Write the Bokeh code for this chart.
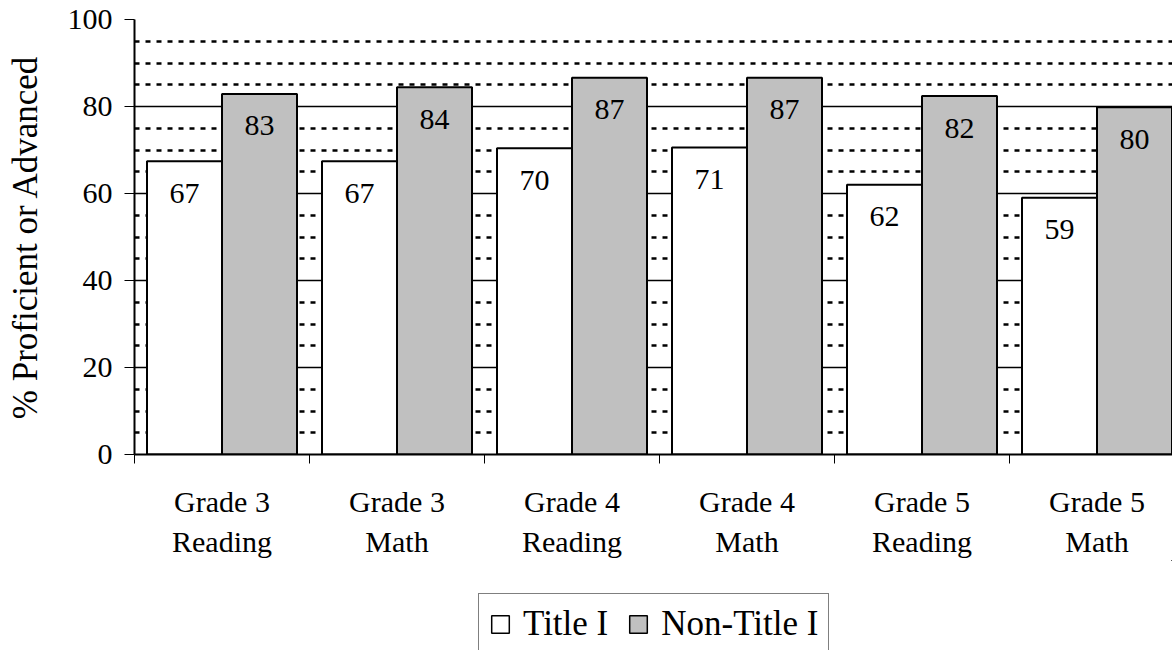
from bokeh.plotting import figure
from bokeh.layouts import column
from bokeh.models import (Range1d, LinearAxis, FixedTicker, Legend, LegendItem,
                          ColumnDataSource)
from bokeh.core.properties import value
from bokeh.embed import file_html
from bokeh.resources import INLINE

grades = ["Grade 3", "Grade 3", "Grade 4", "Grade 4", "Grade 5", "Grade 5"]
subjects = ["Reading", "Math", "Reading", "Math", "Reading", "Math"]
series_names = ["Title I", "Non-Title I"]
title_i = [67.4, 67.4, 70.4, 70.6, 62.0, 59.0]
non_title_i = [82.9, 84.4, 86.6, 86.6, 82.4, 79.8]
y_ticks = [0, 20, 40, 60, 80, 100]
y_minor = [5, 10, 15, 25, 30, 35, 45, 50, 55, 65, 70, 75, 85, 90, 95]

FONT = "Liberation Serif"
COLORS = ["white", "#C0C0C0"]
n = len(grades)
centers = [i + 0.5 for i in range(n)]
bw = 75 / 175
x_t1 = [c - bw / 2 for c in centers]
x_t2 = [c + bw / 2 for c in centers]

src1 = ColumnDataSource(dict(x=x_t1, top=title_i, lab=[str(round(v)) for v in title_i]))
src2 = ColumnDataSource(dict(x=x_t2, top=non_title_i, lab=[str(round(v)) for v in non_title_i]))
sources = [src1, src2]

p = figure(width=1172, height=560, output_backend="svg", toolbar_location=None,
           x_range=Range1d(0, 1038 / 175), y_range=Range1d(0, 100),
           x_axis_type=None, min_border_left=134, min_border_right=0,
           min_border_top=19, min_border_bottom=104,
           outline_line_color=None, background_fill_color="white",
           border_fill_color="white")

# y axis
yax = p.yaxis[0]
yax.ticker = FixedTicker(ticks=y_ticks)
yax.axis_label = "% Proficient or Advanced"
yax.axis_label_text_font = FONT
yax.axis_label_text_font_size = "35px"
yax.axis_label_text_font_style = "normal"
yax.axis_label_text_color = "black"
yax.axis_label_standoff = 20
yax.major_label_text_font = FONT
yax.major_label_text_font_size = "30px"
yax.major_label_text_color = "black"
yax.major_label_standoff = 12
yax.major_tick_out = 10
yax.major_tick_in = 0
yax.minor_tick_line_color = None
yax.axis_line_width = 2
yax.axis_line_color = "black"
yax.major_tick_line_color = "black"

# grid
p.xgrid.visible = False
p.ygrid.ticker = FixedTicker(ticks=y_ticks[1:], minor_ticks=y_minor)
p.ygrid.grid_line_color = "black"
p.ygrid.grid_line_width = 1.5
p.ygrid.minor_grid_line_color = "black"
p.ygrid.minor_grid_line_width = 2.5
p.ygrid.minor_grid_line_dash = "5 6"

# x axes (two stacked label rows)
ax1 = LinearAxis(ticker=FixedTicker(ticks=centers, minor_ticks=list(range(n + 1))),
                 major_label_overrides={c: g for c, g in zip(centers, grades)})
ax1.axis_line_width = 2
ax1.axis_line_color = "black"
ax1.major_tick_line_color = None
ax1.major_tick_out = 0
ax1.major_tick_in = 0
ax1.minor_tick_line_color = "black"
ax1.minor_tick_line_width = 1
ax1.minor_tick_out = 9
ax1.minor_tick_in = 0
ax1.major_label_text_font = FONT
ax1.major_label_text_font_size = "30px"
ax1.major_label_text_color = "black"
ax1.major_label_standoff = 21
p.add_layout(ax1, "below")

ax2 = LinearAxis(ticker=FixedTicker(ticks=centers, minor_ticks=[]),
                 major_label_overrides={c: s for c, s in zip(centers, subjects)})
ax2.axis_line_color = None
ax2.major_tick_line_color = None
ax2.minor_tick_line_color = None
ax2.major_tick_out = 0
ax2.major_tick_in = 0
ax2.major_label_text_font = FONT
ax2.major_label_text_font_size = "30px"
ax2.major_label_text_color = "black"
ax2.major_label_standoff = 4
p.add_layout(ax2, "below")

# bars
for s, col in zip(sources, COLORS):
    p.vbar(x="x", top="top", width=bw, bottom=0, source=s,
           fill_color=col, line_color="black", line_width=2)

for s in sources:
    p.text(x="x", y="top", text="lab", source=s, text_font=value(FONT),
           text_font_size="30px", text_align="center", text_baseline="middle",
           y_offset=32, text_color="black")

# legend strip below the chart (its frame is aligned with the chart's frame)
p2 = figure(width=1172, height=90, output_backend="svg", toolbar_location=None,
            x_range=Range1d(-100, -99), y_range=Range1d(-100, -99),
            x_axis_type=None, y_axis_type=None, min_border=0,
            outline_line_color=None, background_fill_color="white",
            border_fill_color="white")
p2.xgrid.visible = False
p2.ygrid.visible = False
items = []
for name, s, col in zip(series_names, sources, COLORS):
    # same data, drawn outside this strip's visible range: only its legend swatch shows
    r = p2.vbar(x="x", top="top", width=bw, bottom=0, source=s,
                fill_color=col, line_color="black", line_width=1.5)
    items.append(LegendItem(label=name, renderers=[r]))

legend = Legend(items=items, orientation="horizontal", location=(478 - 134, -5))
legend.label_text_font = FONT
legend.label_text_font_size = "35px"
legend.label_text_color = "black"
legend.glyph_width = 22
legend.glyph_height = 22
legend.label_standoff = 12
legend.spacing = 19
legend.padding = 10
legend.margin = 0
legend.border_line_color = "black"
legend.border_line_width = 1
legend.background_fill_color = "white"
legend.background_fill_alpha = 1
p2.add_layout(legend, "center")

layout = column(p, p2, spacing=0)
open("out.html", "w").write(file_html(layout, INLINE))
